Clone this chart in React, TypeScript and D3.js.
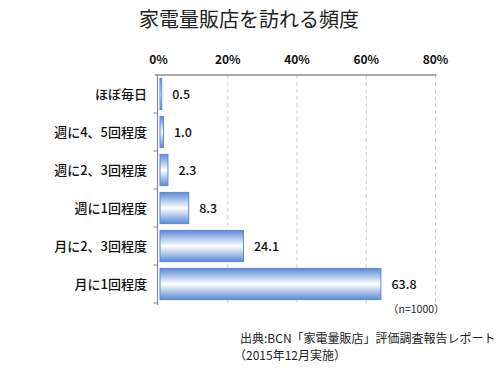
import React from 'react';
import * as d3 from 'd3';

const categories = ['ほぼ毎日', '週に4、5回程度', '週に2、3回程度', '週に1回程度', '月に2、3回程度', '月に1回程度'];
const values = [0.5, 1.0, 2.3, 8.3, 24.1, 63.8];
const xTicks = [0, 20, 40, 60, 80];

const App = () => {
  const width = 500,
    height = 368;
  const left = 158.5,
    right = 435.5,
    top = 75,
    bottom = 303;
  const font = '"Noto Sans CJK JP", sans-serif';

  const x = d3.scaleLinear().domain([0, 80]).range([left, right]);
  const y = d3.scaleBand<string>().domain(categories).range([top, bottom]).paddingInner(0.18).paddingOuter(0.09);
  const band = d3.scaleBand<string>().domain(categories).range([top, bottom]);

  return (
    <svg width={width} height={height} style={{ position: 'absolute', left: 0, top: 0 }}>
      <defs>
        <linearGradient id="barGrad" x1="0" y1="0" x2="0" y2="1">
          <stop offset="0%" stopColor="#5a8ad6" />
          <stop offset="50%" stopColor="#ffffff" />
          <stop offset="100%" stopColor="#5a8ad6" />
        </linearGradient>
      </defs>
      <rect width={width} height={height} fill="#fff" />
      <text x={249} y={27} textAnchor="middle" fontFamily={font} fontSize={20} fill="#222">
        家電量販店を訪れる頻度
      </text>

      {xTicks.map((t) => (
        <g key={t}>
          {t > 0 && (
            <line x1={x(t)} x2={x(t)} y1={top} y2={bottom} stroke="#cfcfcf" strokeDasharray="4,3" />
          )}
          <text x={x(t)} y={64} textAnchor="middle" fontFamily={font} fontSize={12} fontWeight="bold" fill="#111">
            {t}%
          </text>
        </g>
      ))}

      <line x1={155} x2={right + 1} y1={top} y2={top} stroke="#8c8c8c" strokeWidth={1.5} />
      <line x1={left - 1} x2={left - 1} y1={top} y2={bottom + 2} stroke="#8c8c8c" strokeWidth={1.2} />
      {categories.map((c) => (
        <line key={c} x1={left - 5} x2={left - 1} y1={(band(c) || 0) + band.bandwidth()} y2={(band(c) || 0) + band.bandwidth()} stroke="#8c8c8c" />
      ))}

      {categories.map((c, i) => {
        const by = y(c) || 0;
        const cy = (band(c) || 0) + band.bandwidth() / 2;
        return (
          <g key={c}>
            <rect
              x={left + 1.5}
              y={by}
              width={x(values[i]) - left}
              height={y.bandwidth()}
              fill="url(#barGrad)"
              stroke="#5a8ad6"
              strokeWidth={1}
            />
            <text x={147} y={cy + 4.5} textAnchor="end" fontFamily={font} fontSize={13} fontWeight={500} fill="#111">
              {c}
            </text>
            <text x={x(values[i]) + 12} y={cy + 5} fontFamily={font} fontSize={12.5} fontWeight={500} fill="#111">
              {values[i].toFixed(1)}
            </text>
          </g>
        );
      })}

      <text x={388} y={313} fontFamily={font} fontSize={10.5} fill="#222">
        （n=1000）
      </text>
      <text x={240} y={343} fontFamily={font} fontSize={12} fill="#222">
        出典:BCN「家電量販店」評価調査報告レポート
      </text>
      <text x={234} y={360} fontFamily={font} fontSize={12} fill="#222">
        （2015年12月実施）
      </text>
    </svg>
  );
};

export default App;
